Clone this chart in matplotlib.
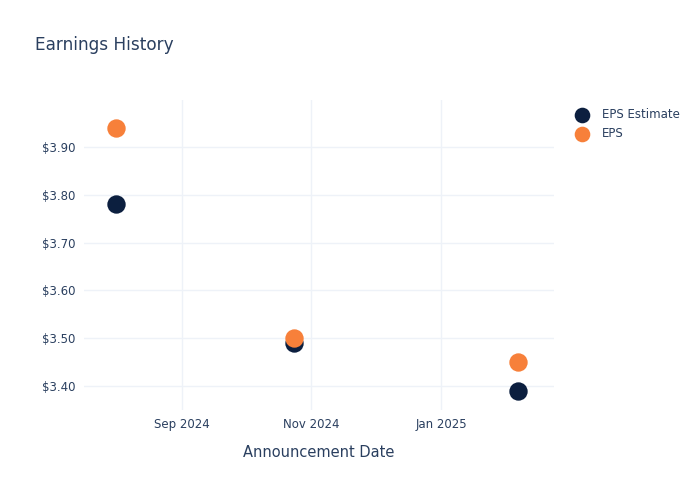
import pandas as pd
import matplotlib
matplotlib.use("Agg")
import matplotlib.pyplot as plt
import matplotlib.dates as mdates
from matplotlib.ticker import FuncFormatter

# values
dates = pd.to_datetime(["2024-08-01", "2024-10-24", "2025-02-06"])
eps_estimate = [3.78, 3.49, 3.39]
eps_actual = [3.94, 3.50, 3.45]
y_ticks = [3.40, 3.50, 3.60, 3.70, 3.80, 3.90]
x_ticks = pd.to_datetime(["2024-09-01", "2024-11-01", "2025-01-01"])

text_col = "#2a3f5f"
grid_col = "#eef2f8"
navy = "#0c1f3f"
orange = "#f7803a"

fig = plt.figure(figsize=(7, 5), dpi=100)
ax = fig.add_axes([0.12, 0.18, 0.671, 0.62])

ax.scatter(dates, eps_estimate, s=175, color=navy, label="EPS Estimate", zorder=3, linewidths=0)
ax.scatter(dates, eps_actual, s=175, color=orange, label="EPS", zorder=4, linewidths=0)

ax.set_xlim(pd.Timestamp("2024-07-17"), pd.Timestamp("2025-02-23"))
ax.set_ylim(3.35, 3.998)
ax.set_yticks(y_ticks)
ax.yaxis.set_major_formatter(FuncFormatter(lambda v, p: f"${v:.2f}"))
ax.set_xticks(x_ticks)
ax.xaxis.set_major_formatter(mdates.DateFormatter("%b %Y"))

ax.grid(True, color=grid_col, linewidth=1)
ax.set_axisbelow(True)
for s in ax.spines.values():
    s.set_visible(False)
ax.tick_params(length=0, labelsize=8.5, colors=text_col, pad=6)
ax.set_xlabel("Announcement Date", fontsize=10.5, color=text_col, labelpad=10)

fig.text(0.05, 0.91, "Earnings History", fontsize=12.2, color=text_col, va="center")

leg = fig.legend(loc="upper left", bbox_to_anchor=(0.8, 0.806), frameon=False,
                 fontsize=8.5, handletextpad=0.65, labelspacing=0.55, markerscale=0.85)
for t in leg.get_texts():
    t.set_color(text_col)

fig.savefig("out.png", dpi=100)
